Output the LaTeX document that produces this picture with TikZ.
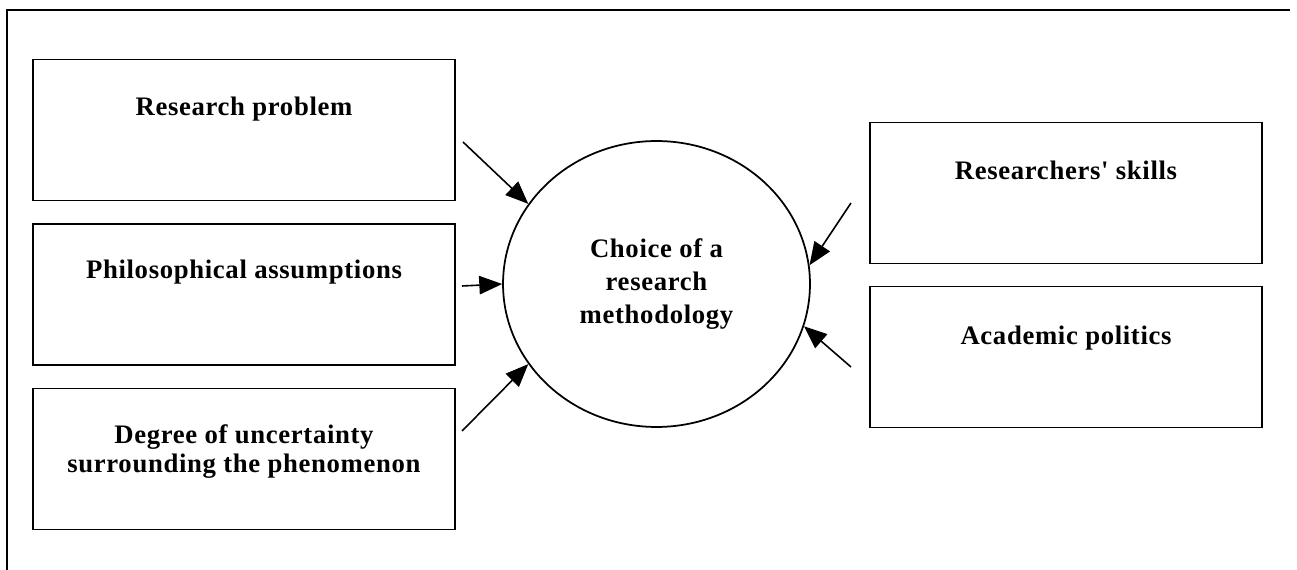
\documentclass[tikz,border=0pt]{standalone}
\usepackage{fontspec}
\setmainfont{Liberation Serif}
\newfontfamily\figfont{Liberation Serif}[LetterSpace=2.5]
\usepackage{tikz}
\usetikzlibrary{arrows.meta, positioning, shapes.geometric}

\begin{document}
\begin{tikzpicture}[
  x=0.02cm, y=-0.02cm,
  every node/.style={font=\figfont\bfseries\fontsize{15.2}{16.4}\selectfont},
  factor/.style={draw, line width=1pt, minimum height=2.82cm, inner sep=0pt},
  lbl/.style={inner sep=0pt, align=center},
  choice/.style={draw, ellipse, line width=1pt, minimum width=6.14cm, minimum height=5.72cm, inner sep=0pt, align=center, font=\figfont\bfseries\fontsize{15.2}{18.7}\selectfont},
  arrow/.style={-{Triangle[length=13pt, width=10.5pt]}, line width=0.9pt}
]
  \useasboundingbox (0,0) rectangle (1297,570);

  % frame (top and left only)
  \draw[line width=1pt] (7,570) -- (7,10) -- (1290,10);

  % factors on the left
  \node[factor, minimum width=8.44cm] (prob) at (244,130) {};
  \node[factor, minimum width=8.44cm] (phil) at (244,294.5) {};
  \node[factor, minimum width=8.44cm] (unc) at (244,459) {};

  % factors on the right
  \node[factor, minimum width=7.84cm] (skill) at (1066,193) {};
  \node[factor, minimum width=7.84cm] (polit) at (1066,357) {};

  \node[lbl, below=0.76cm of prob.north] (probtxt) {Research problem};
  \node[lbl, below=0.72cm of phil.north] (philtxt) {Philosophical assumptions};
  \node[lbl, below=0.74cm of unc.north] (unctxt) {Degree of uncertainty\\surrounding the phenomenon};
  \node[lbl, below=0.78cm of skill.north] (skilltxt) {Researchers' skills};
  \node[lbl, below=0.80cm of polit.north] (polittxt) {Academic politics};

  % the choice
  \node[choice] (meth) at (656.5,284) {Choice of a\\research\\methodology};

  % arrow tails
  \coordinate (fromprob) at (463,142);
  \coordinate (fromphil) at (462,286);
  \coordinate (fromunc) at (462,431);
  \coordinate (fromskill) at (851,203);
  \coordinate (frompolit) at (851,367);

  \draw[arrow] (fromprob) -- (meth.148);
  \draw[arrow] (fromphil) -- (meth.180);
  \draw[arrow] (fromunc) -- (meth.212);
  \draw[arrow] (fromskill) -- (meth.7);
  \draw[arrow] (frompolit) -- (meth.344);

\end{tikzpicture}
\end{document}
